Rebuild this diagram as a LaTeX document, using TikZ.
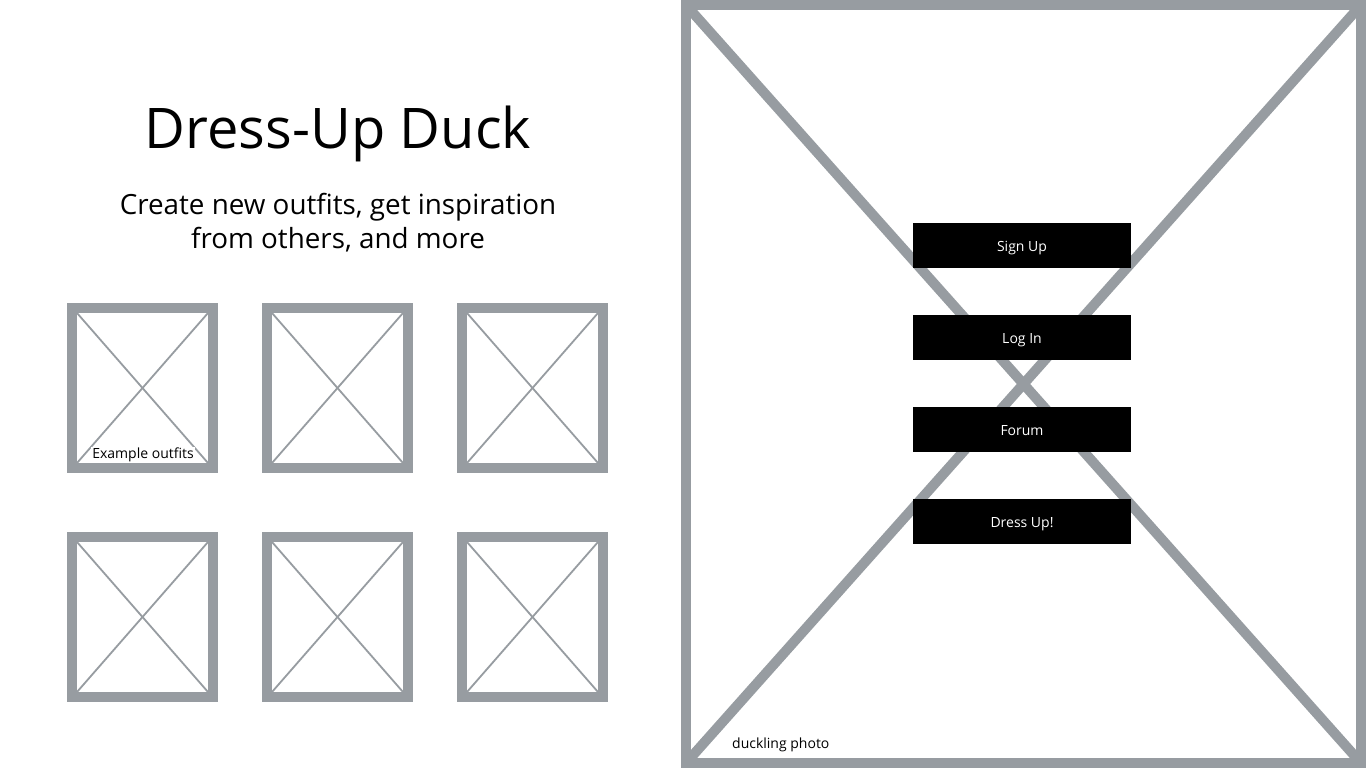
\documentclass[tikz,border=0pt]{standalone}
\usepackage{fontspec}
\setmainfont{Open Sans}
\definecolor{wfgray}{RGB}{151,156,161}
\begin{document}
\begin{tikzpicture}[x=1pt,y=-1pt,
  thumbframe/.style={draw=wfgray,line width=10pt},
  thumbcross/.style={draw=wfgray,line width=1.8pt},
  bigframe/.style={draw=wfgray,line width=10pt},
  btn/.style={fill=black,text=white,minimum width=218pt,minimum height=45pt,inner sep=0pt,text height=14pt,text depth=3pt,font=\fontsize{14}{16}\selectfont},
  lbl/.style={inner sep=0pt,font=\fontsize{14}{16}\selectfont}]
\useasboundingbox[fill=white] (0,0) rectangle (1366,768);
% big photo placeholder
\begin{scope}
\clip (681,0) rectangle (1366,768);
\coordinate (BTL) at (686,5);
\coordinate (BBR) at (1361,763);
\coordinate (BTR) at (1361,5);
\coordinate (BBL) at (686,763);
\draw[bigframe] (BTL) -- (BBR);
\draw[bigframe] (BTR) -- (BBL);
\draw[bigframe] (BTL) rectangle (BBR);
\end{scope}
\node[lbl,anchor=west] (duck) at (732,745) {duckling photo};
% buttons
\node[btn] (signup) at (1022,245.5) {Sign Up};
\node[btn] (login) at (1022,337.5) {Log In};
\node[btn] (forum) at (1022,429.5) {Forum};
\node[btn] (dressup) at (1022,521.5) {Dress Up!};
% title
\node[inner sep=0pt,anchor=base,font=\fontsize{56}{66}\selectfont] (title) at (338,148) {Dress-Up Duck};
\node[inner sep=0pt,anchor=base,font=\fontsize{27.8}{34}\selectfont] (sub1) at (338,214) {Create new outfits, get inspiration};
\node[inner sep=0pt,anchor=base,font=\fontsize{27.8}{34}\selectfont] (sub2) at (338,248) {from others, and more};
% thumbnails
\foreach \cx/\cy [count=\i] in {67/303,262/303,457/303,67/532,262/532,457/532}{
  \coordinate (t\i a) at (\cx+5,\cy+5);
  \coordinate (t\i b) at (\cx+146,\cy+165);
  \coordinate (t\i c) at (\cx+10,\cy+10);
  \coordinate (t\i d) at (\cx+141,\cy+160);
  \coordinate (t\i e) at (\cx+141,\cy+10);
  \coordinate (t\i f) at (\cx+10,\cy+160);
  \draw[thumbcross] (t\i c) -- (t\i d);
  \draw[thumbcross] (t\i e) -- (t\i f);
  \draw[thumbframe] (t\i a) rectangle (t\i b);
}
\node[lbl,fill=white,inner xsep=1pt,inner ysep=1pt] (ex) at (143,455) {Example outfits};
\end{tikzpicture}
\end{document}
